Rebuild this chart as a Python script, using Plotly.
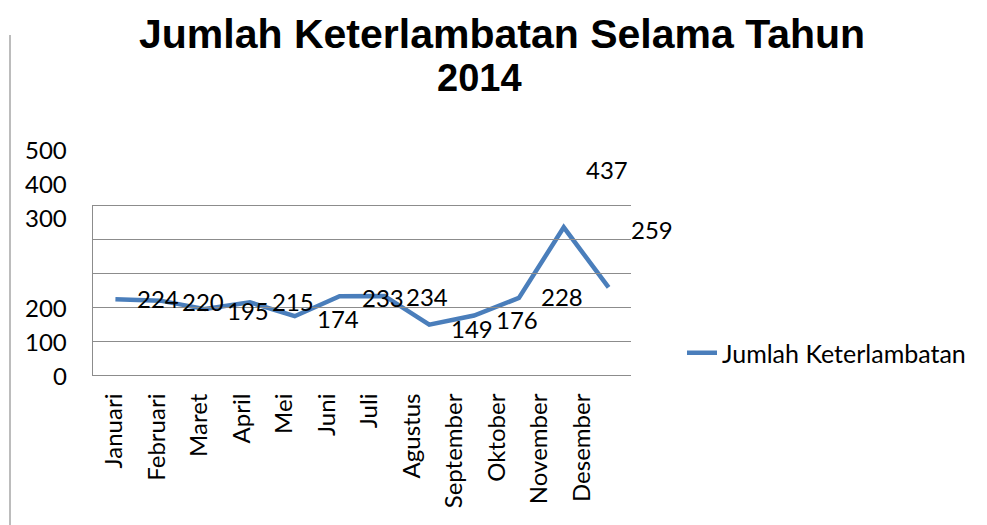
import plotly.graph_objects as go

months = ["Januari", "Februari", "Maret", "April", "Mei", "Juni", "Juli",
          "Agustus", "September", "Oktober", "November", "Desember"]
values = [224, 220, 195, 215, 174, 233, 234, 149, 176, 228, 437, 259]
ytick_text = ["0", "100", "200", "300", "400", "500"]
title_lines = ["Jumlah Keterlambatan Selama Tahun", "2014"]

# layout-only positions (as seen in the reference)
ytick_pos = [-3, 95, 196, 464, 565, 663]
label_shift = [0, -2, -2, 0, -3, -2, -2, -5, -5, 0, 57, 57]

FONT = "Lato"
TFONT = "Liberation Sans"
FS = 24
OX, OY = 8, 8  # page offset of the plot div
W, H = 987 - OX, 525 - OY
PL, PR, PT, PB = 93, 631, 206, 375          # plot area in screen pixels
L, T = PL - OX, PT - OY
R, B = W - (PR - OX), H - (PB - OY)
pw = W - L - R
ph = H - T - B
YMAX = 500
N = len(months)


def px(x):
    return (x - PL) / pw


def py(y):
    return (PB - y) / ph


fig = go.Figure()
fig.add_trace(go.Scatter(
    x=months, y=values, mode="lines", name="Jumlah Keterlambatan",
    line=dict(color="#4A7EBB", width=4.5), xaxis="x", yaxis="y",
))
# helper trace carrying the (compressed) month labels axis
fig.add_trace(go.Scatter(
    x=months, y=values, mode="none", showlegend=False, hoverinfo="skip",
    xaxis="x2", yaxis="y",
))

annotations = []
for i, v in enumerate(values):
    annotations.append(dict(
        x=(i + 0.96 + 0.5) / N, y=v / YMAX, xref="paper", yref="paper",
        text=str(v), showarrow=False,
        xanchor="center", yanchor="middle", yshift=label_shift[i] + 1,
        font=dict(family=FONT, size=FS, color="black"),
    ))
for t, p in zip(ytick_text, ytick_pos):
    annotations.append(dict(
        x=0, y=p / YMAX, xref="paper", yref="paper", text=t, showarrow=False,
        xanchor="right", yanchor="middle", xshift=-24, yshift=1,
        font=dict(family=FONT, size=FS, color="black"),
    ))
# title lines: box tops (screen px)
for txt, cx, top, fs in zip(title_lines, [502, 479], [8.5, 54.5], [41, 38]):
    annotations.append(dict(
        x=px(cx), y=py(top), xref="paper", yref="paper",
        text="<b>" + txt + "</b>", showarrow=False,
        xanchor="center", yanchor="top",
        font=dict(family=TFONT, size=fs, color="black"),
    ))

fig.update_layout(
    width=W, height=H,
    margin=dict(l=L, r=R, t=T, b=B, autoexpand=False),
    paper_bgcolor="white", plot_bgcolor="rgba(0,0,0,0)",
    xaxis=dict(
        domain=[0, 1], type="category", categoryarray=months,
        range=[-0.5, 11.5], showticklabels=False, ticks="",
        showgrid=False, zeroline=False, automargin=False,
        showline=True, linecolor="#8c8c8c", linewidth=1.2, mirror=True,
    ),
    xaxis2=dict(
        domain=[0, 510 / pw], anchor="y", type="category",
        categoryarray=months, range=[-0.5, 11.5],
        tickangle=-90, ticks="outside", ticklen=8, automargin=False,
        tickcolor="rgba(0,0,0,0)", showgrid=False, zeroline=False,
        showline=False,
        tickfont=dict(family=FONT, size=FS, color="black"),
    ),
    yaxis=dict(
        range=[0, YMAX], dtick=100, showticklabels=False, ticks="",
        showgrid=True, gridcolor="#8c8c8c", gridwidth=1.2, automargin=False,
        zeroline=False, showline=True, linecolor="#8c8c8c", linewidth=1.2,
    ),
    showlegend=True,
    legend=dict(
        x=px(682), xanchor="left", y=py(353), yanchor="middle",
        font=dict(family=FONT, size=25, color="black"),
        bgcolor="rgba(0,0,0,0)",
    ),
    annotations=annotations,
    shapes=[dict(
        type="line", xref="paper", yref="paper",
        x0=px(10), x1=px(10), y0=py(35), y1=py(530),
        line=dict(color="#a6a6a6", width=1.5),
    )],
)

fig.write_html("out.html")
